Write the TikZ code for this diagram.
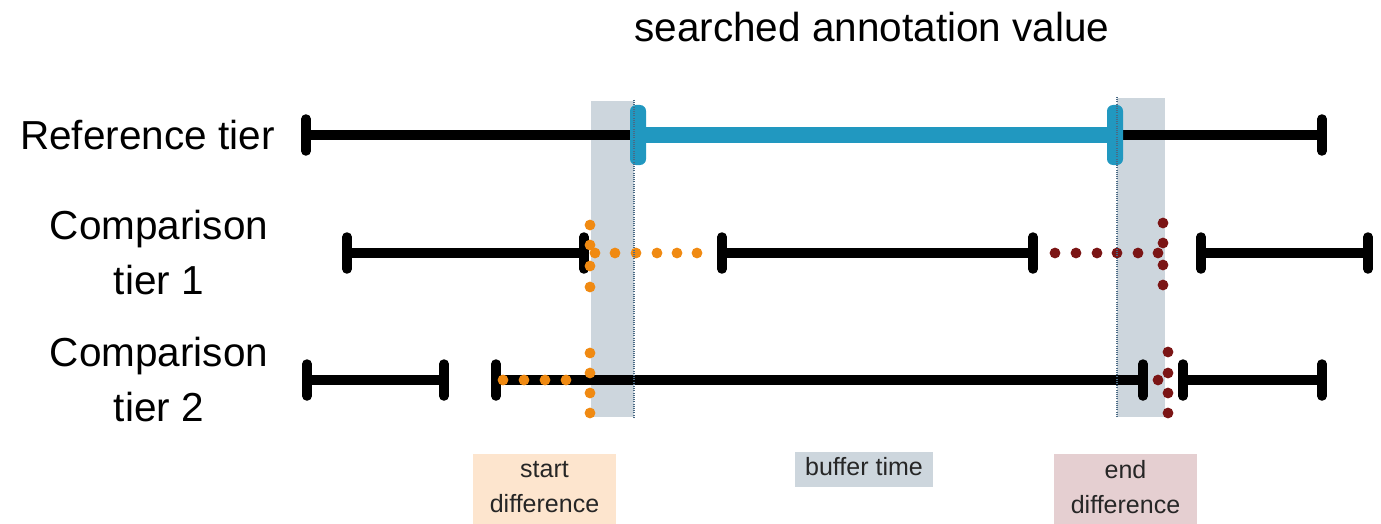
\documentclass[tikz,border=0pt]{standalone}
\usepackage{fontspec}
\setmainfont{Liberation Sans}
\definecolor{bandgray}{HTML}{CDD6DD}
\definecolor{tierblue}{HTML}{2198C0}
\definecolor{dotorange}{HTML}{F08A12}
\definecolor{dotred}{HTML}{7B1515}
\definecolor{startbox}{HTML}{FDE5CE}
\definecolor{endbox}{HTML}{E5CFD1}
\definecolor{edgeblue}{HTML}{4A6A85}
\begin{document}
\begin{tikzpicture}[x=1pt,y=-1pt,
  seg/.style={line width=10pt,black},
  tcap/.pic={\draw[line width=9.5pt,line cap=round,black] (0,-16) -- (0,16);},
  bigtext/.style={font=\fontsize{40.5}{55}\selectfont,align=center,inner sep=0pt},
  smalltext/.style={font=\fontsize{25}{35}\selectfont,align=center,inner sep=0pt,text=black!85},
  band/.style={fill=bandgray,draw=none},
  edge/.style={edgeblue,line width=1.2pt,dash pattern=on 1pt off 1.2pt},
  odot/.style={fill=dotorange},
  rdot/.style={fill=dotred},
  bluecap/.style={fill=tierblue,draw=none,rounded corners=6pt,minimum width=16pt,minimum height=60pt,inner sep=0pt}
]
\useasboundingbox (0,0) rectangle (1381,524);

% buffer bands
\fill[band] (591,101) rectangle (634,417);
\fill[band] (1117,98) rectangle (1165,417);

% labels
\node[bigtext] (title) at (872,27) {searched annotation value};
\node[bigtext,anchor=west] (lref) at (20,135) {Reference tier};
\node[bigtext] (lc1) at (159,253) {Comparison\\tier 1};
\node[bigtext] (lc2) at (159,380) {Comparison\\tier 2};

% reference tier
\coordinate (r1) at (306,135);
\coordinate (r2) at (1322,135);
\coordinate (rb1) at (638,135);
\coordinate (rb2) at (1115,135);
\draw[seg] (r1) -- (rb1);
\draw[seg] (rb2) -- (r2);
\pic at (r1) {tcap};
\pic at (r2) {tcap};
\draw[tierblue,line width=16pt] (rb1) -- (rb2);
\node[bluecap] (bc1) at (rb1) {};
\node[bluecap] (bc2) at (rb2) {};

% comparison tier 1
\coordinate (a1) at (347,253);
\coordinate (a2) at (584,253);
\coordinate (a3) at (722,253);
\coordinate (a4) at (1033,253);
\coordinate (a5) at (1201,253);
\coordinate (a6) at (1368,253);
\draw[seg] (a1) -- (a2);
\draw[seg] (a3) -- (a4);
\draw[seg] (a5) -- (a6);
\foreach \p in {a1,a2,a3,a4,a5,a6} \pic at (\p) {tcap};

% comparison tier 2
\coordinate (b1) at (307,380);
\coordinate (b2) at (444,380);
\coordinate (b3) at (496,380);
\coordinate (b4) at (1143,380);
\coordinate (b5) at (1183,380);
\coordinate (b6) at (1322,380);
\draw[seg] (b1) -- (b2);
\draw[seg] (b3) -- (b4);
\draw[seg] (b5) -- (b6);
\foreach \p in {b1,b2,b3,b4,b5,b6} \pic at (\p) {tcap};

% start difference dots (orange)
\foreach \y in {225,245,266,287,353,373,393,413} \fill[odot] (590,\y) circle (5.4);
\foreach \x in {595,615,636,657,677,697} \fill[odot] (\x,253) circle (5.4);
\foreach \x in {503,524,545,566} \fill[odot] (\x,380) circle (5.4);

% end difference dots (dark red)
\foreach \x in {1055,1076,1097,1117,1138,1158} \fill[rdot] (\x,253) circle (5.4);
\foreach \y in {223,243,265,285} \fill[rdot] (1163,\y) circle (5.4);
\foreach \y in {352,373,393,413} \fill[rdot] (1168,\y) circle (5.4);
\fill[rdot] (1158,380) circle (5.4);

% buffer edges (dotted)
\draw[edge] (634,100) -- (634,418);
\draw[edge] (1117,97) -- (1117,418);

% legend boxes
\fill[startbox] (473,454) rectangle (616,524);
\fill[bandgray] (795,452) rectangle (933,487);
\fill[endbox] (1054,454) rectangle (1197,524);
\node[smalltext] (lstart) at (544.5,487) {start\\difference};
\node[smalltext] (lbuffer) at (864,467) {buffer time};
\node[smalltext] (lend) at (1125.5,487) {end\\difference};
\end{tikzpicture}
\end{document}
